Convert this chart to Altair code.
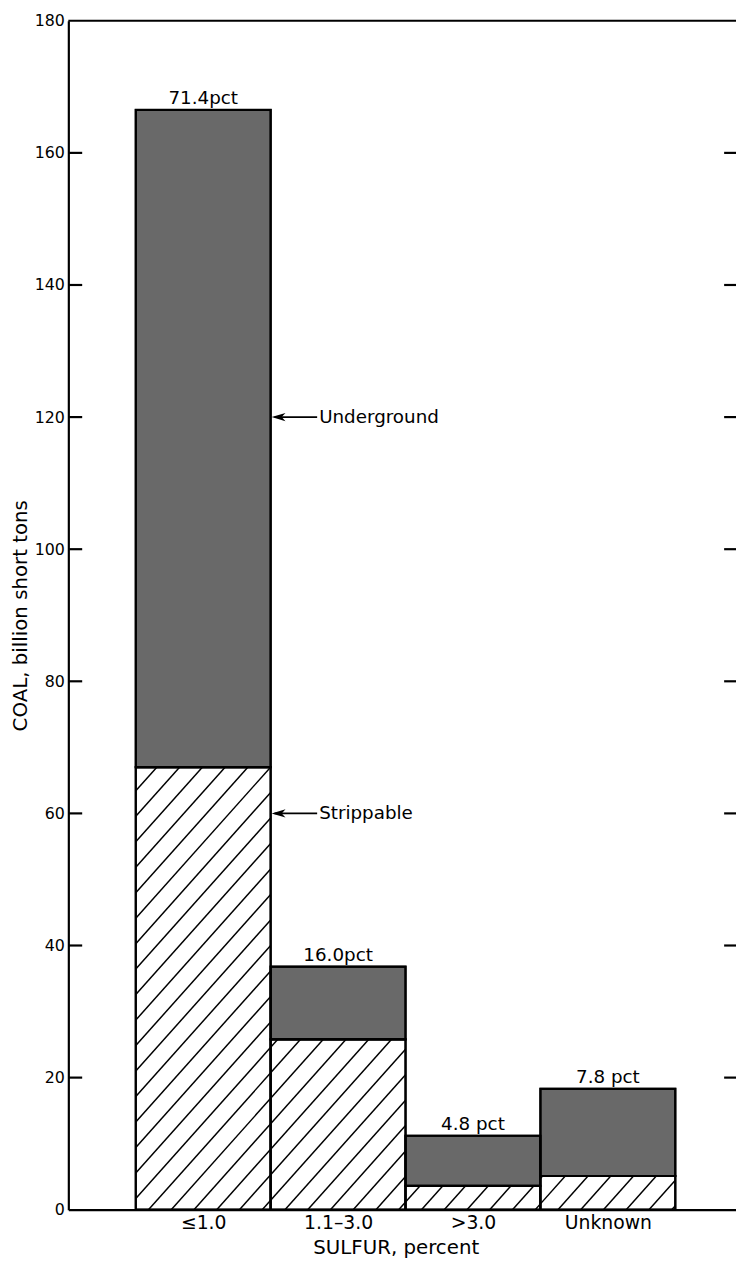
import math
import altair as alt
import pandas as pd

# ---------------- data ----------------
categories = ["≤1.0", "1.1–3.0", ">3.0", "Unknown"]
strippable = [67.0, 25.8, 3.6, 5.1]          # billion short tons
underground = [99.5, 11.0, 7.6, 13.2]        # billion short tons (stacked on top)
pct_labels = ["71.4pct", "16.0pct", "4.8 pct", "7.8 pct"]
y_ticks = [0, 20, 40, 60, 80, 100, 120, 140, 160, 180]
inner_ticks = [20, 40, 60, 80, 100, 120, 140, 160]
annot_text = ["Underground", "Strippable"]
annot_y = [120, 60]

# ---------------- layout ----------------
W, H = 675, 1202
XMAX = 4.95
XPX = W / XMAX
YPX = H / 180.0
FONT = "DejaVu Sans"
GRAY = "#696969"

centers = [i + 1 for i in range(len(categories))]

bar_rows = []
for i, c in enumerate(centers):
    s, u = strippable[i], underground[i]
    bar_rows.append(dict(x=c - 0.5, x2=c + 0.5, y=0, y2=s, kind="Strippable"))
    bar_rows.append(dict(x=c - 0.5, x2=c + 0.5, y=s, y2=s + u, kind="Underground"))
bars_df = pd.DataFrame(bar_rows)

label_df = pd.DataFrame(dict(
    x=centers,
    total=[s + u for s, u in zip(strippable, underground)],
    label=pct_labels,
))

# hatch lines for the strippable part (derived from the strippable values)
k, sp, phase = 1.12, 23.0, 81.0
hatch = []
for i, c in enumerate(centers):
    a, b = (c - 0.5) * XPX, (c + 0.5) * XPX
    h = strippable[i] * YPX
    n0 = math.floor((a - h / k - phase) / sp) - 1
    n1 = math.ceil((b - phase) / sp) + 1
    for n in range(n0, n1 + 1):
        cc = phase + sp * n
        xs = max(a, cc)
        xe = min(b, cc + h / k)
        if xe - xs > 0.5:
            hatch.append(dict(x=xs / XPX, y=k * (xs - cc) / YPX,
                              x2=xe / XPX, y2=k * (xe - cc) / YPX))
hatch_df = pd.DataFrame(hatch)

edge = centers[0] + 0.5
annot_df = pd.DataFrame(dict(
    text=annot_text, y=annot_y,
    xs=[edge + 4 / XPX] * 2, xe=[edge + 47 / XPX] * 2,
    xh=[edge + 8 / XPX] * 2, xt=[edge + 49 / XPX] * 2,
))

ticks_df = pd.DataFrame(dict(v=inner_ticks))
top_df = pd.DataFrame(dict(v=[180]))

label_expr = "[" + ",".join("'" + c + "'" for c in categories) + "][datum.value - 1]"

xscale = alt.Scale(domain=[0, XMAX], nice=False, zero=False)
yscale = alt.Scale(domain=[0, 180], nice=False)

x_axis = alt.Axis(values=centers, labelExpr=label_expr, ticks=False, tickSize=0,
                  labelPadding=4, labelFontSize=19, labelFont=FONT, labelColor="black",
                  labelFlush=False, grid=False, domainColor="black", domainWidth=2.2,
                  title="SULFUR, percent", titleFont=FONT, titleFontSize=20,
                  titleFontWeight="normal", titleColor="black", titlePadding=5,
                  titleX=331, titleAlign="center")
y_axis = alt.Axis(values=y_ticks, ticks=False, tickSize=0, labelPadding=4,
                  labelFontSize=16, labelFont=FONT, labelColor="black",
                  grid=False, domainColor="black", domainWidth=2.2,
                  title="COAL, billion short tons", titleFont=FONT, titleFontSize=20,
                  titleFontWeight="normal", titleColor="black", titlePadding=4)

bars = alt.Chart(bars_df).mark_rect(stroke="black", strokeWidth=2).encode(
    x=alt.X("x:Q", scale=xscale, axis=x_axis),
    x2="x2:Q",
    y=alt.Y("y:Q", scale=yscale, axis=y_axis),
    y2="y2:Q",
    fill=alt.Fill("kind:N", scale=alt.Scale(domain=["Strippable", "Underground"],
                                            range=["white", GRAY]), legend=None),
)

hatch_layer = alt.Chart(hatch_df).mark_rule(color="black", strokeWidth=1.5).encode(
    x=alt.X("x:Q", scale=xscale), x2="x2:Q",
    y=alt.Y("y:Q", scale=yscale), y2="y2:Q",
)

outline = alt.Chart(bars_df).mark_rect(fill=None, stroke="black", strokeWidth=2.2).encode(
    x=alt.X("x:Q", scale=xscale), x2="x2:Q",
    y=alt.Y("y:Q", scale=yscale), y2="y2:Q",
)

labels = alt.Chart(label_df).mark_text(font=FONT, fontSize=18.5, baseline="alphabetic",
                                       dy=-6, color="black").encode(
    x=alt.X("x:Q", scale=xscale), y=alt.Y("total:Q", scale=yscale), text="label:N",
)

arrow_line = alt.Chart(annot_df).mark_rule(color="black", strokeWidth=1.8).encode(
    x=alt.X("xs:Q", scale=xscale), x2="xe:Q", y=alt.Y("y:Q", scale=yscale),
)
arrow_head = alt.Chart(annot_df).mark_point(
    shape="M-1,0L1,-0.6L0.45,0L1,0.6Z", size=196, filled=True, color="black", opacity=1
).encode(x=alt.X("xh:Q", scale=xscale), y=alt.Y("y:Q", scale=yscale))
annot_txt = alt.Chart(annot_df).mark_text(font=FONT, fontSize=18.5, align="left",
                                          baseline="middle", color="black").encode(
    x=alt.X("xt:Q", scale=xscale), y=alt.Y("y:Q", scale=yscale), text="text:N",
)

left_ticks = alt.Chart(ticks_df).mark_rule(color="black", strokeWidth=2.2).encode(
    y=alt.Y("v:Q", scale=yscale), x=alt.value(0), x2=alt.value(14),
)
right_ticks = alt.Chart(ticks_df).mark_rule(color="black", strokeWidth=2.2).encode(
    y=alt.Y("v:Q", scale=yscale), x=alt.value(W - 12), x2=alt.value(W),
)
top_line = alt.Chart(top_df).mark_rule(color="black", strokeWidth=2.2).encode(
    y=alt.Y("v:Q", scale=yscale), x=alt.value(0), x2=alt.value(W),
)

chart = alt.layer(
    bars, hatch_layer, outline, labels, arrow_line, arrow_head, annot_txt,
    left_ticks, right_ticks, top_line,
).properties(
    width=W, height=H,
    padding={"left": 61, "top": 6, "right": 0, "bottom": 51},
    autosize=alt.AutoSizeParams(type="none"),
).configure_view(stroke=None)

chart.save("out.html", embed_options={"renderer": "svg", "actions": False})
